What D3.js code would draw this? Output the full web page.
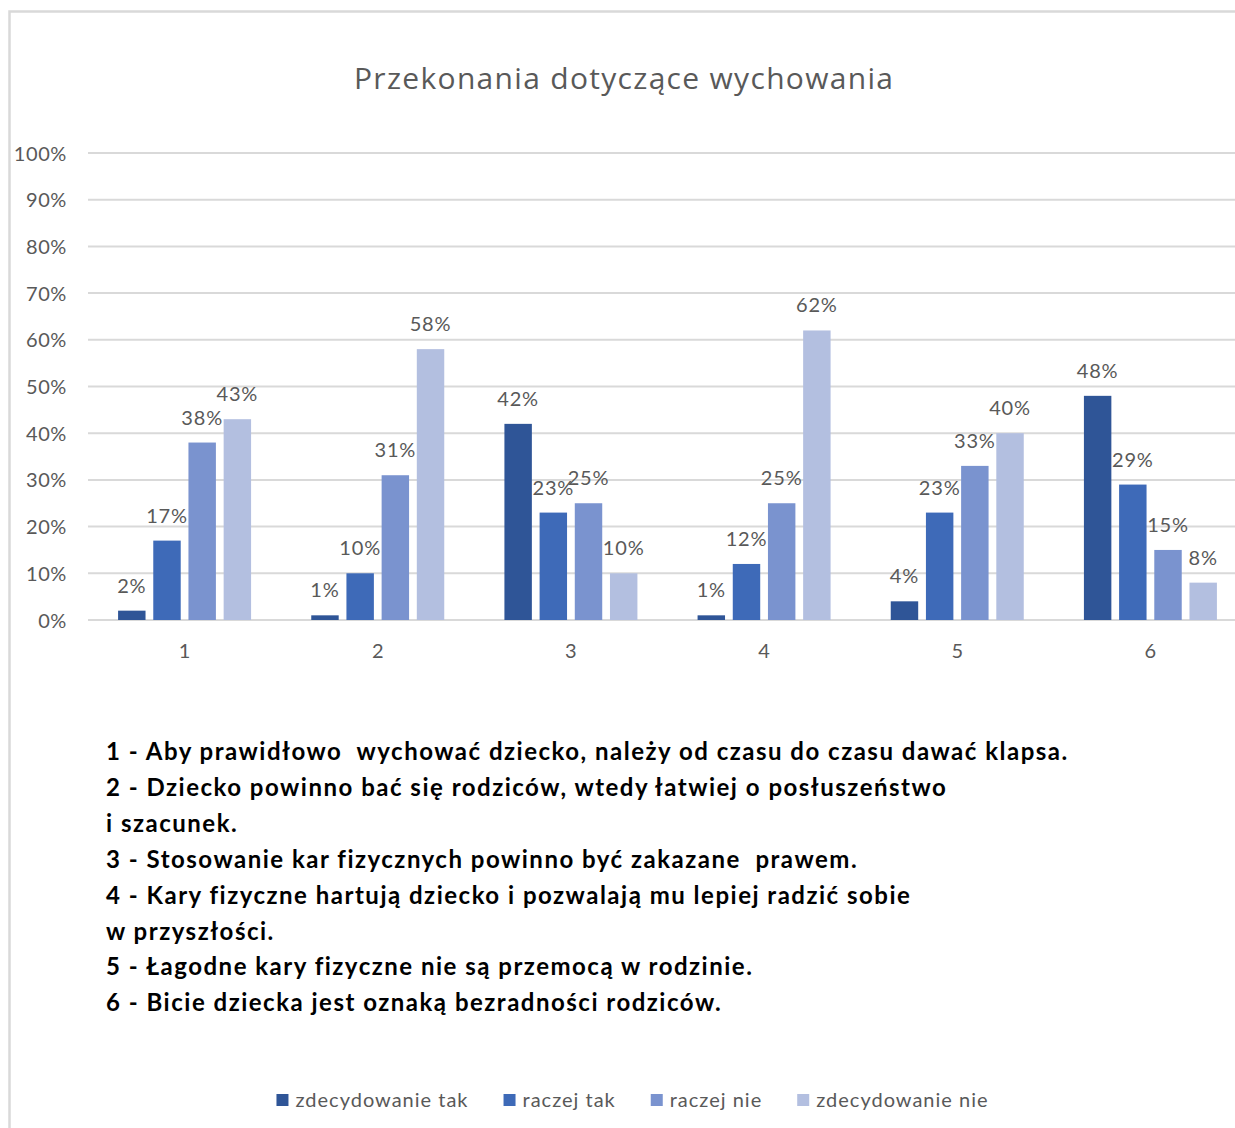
<!DOCTYPE html>
<html><head><meta charset="utf-8">
<script src="https://cdn.jsdelivr.net/npm/d3@7"></script>
<style>
html,body{margin:0;padding:0;background:#fff;}
svg{display:block;}
</style></head>
<body>
<svg id="chart" width="1235" height="1128"></svg>
<script>
const title = "Przekonania dotyczące wychowania";
const categories = ["1","2","3","4","5","6"];
const seriesNames = ["zdecydowanie tak","raczej tak","raczej nie","zdecydowanie nie"];
const seriesColors = ["#2F5597","#3E6AB8","#7A93CF","#B3BFE0"];
const zdecydowanieTak = [2,1,42,1,4,48];
const raczejTak = [17,10,23,12,23,29];
const raczejNie = [38,31,25,25,33,15];
const zdecydowanieNie = [43,58,10,62,40,8];
const yTicks = [0,0.1,0.2,0.3,0.4,0.5,0.6,0.7,0.8,0.9,1.0];
const statements = [
  "1 - Aby prawidłowo  wychować dziecko, należy od czasu do czasu dawać klapsa.",
  "2 - Dziecko powinno bać się rodziców, wtedy łatwiej o posłuszeństwo",
  "i szacunek.",
  "3 - Stosowanie kar fizycznych powinno być zakazane  prawem.",
  "4 - Kary fizyczne hartują dziecko i pozwalają mu lepiej radzić sobie",
  "w przyszłości.",
  "5 - Łagodne kary fizyczne nie są przemocą w rodzinie.",
  "6 - Bicie dziecka jest oznaką bezradności rodziców."
];

const allSeries = [zdecydowanieTak, raczejTak, raczejNie, zdecydowanieNie];
const data = categories.map((c,i)=>({cat:c, vals: seriesNames.map((s,j)=>({s, v: allSeries[j][i]/100, color: seriesColors[j]}))}));

const svg = d3.select("#chart");
const grey = "#595959";
const font = "Lato, 'Open Sans', sans-serif";

// frame
svg.append("rect").attr("x",9.5).attr("y",11.5).attr("width",1240).attr("height",1140)
  .attr("fill","#fff").attr("stroke","#D9D9D9").attr("stroke-width",2.5);

// title
svg.append("text").attr("x",623.5).attr("y",89).attr("text-anchor","middle")
  .attr("font-family","'Open Sans', Lato, sans-serif").attr("font-size",30).attr("fill",grey)
  .attr("textLength",539).attr("lengthAdjust","spacing").text(title);

const x = d3.scaleBand().domain(categories).range([88,1247]).paddingInner(0).paddingOuter(0);
const y = d3.scaleLinear().domain([0,1]).range([620,153]);
const xs = d3.scaleBand().domain(seriesNames).range([-66.5,66.5]).paddingInner(0.22).paddingOuter(0);

// y axis labels
const yAxis = d3.axisLeft(y).tickValues(yTicks).tickFormat(d3.format(".0%")).tickSize(0).tickPadding(0);
const yg = svg.append("g").attr("transform","translate(67,0)").call(yAxis);
yg.select(".domain").remove();
yg.selectAll("text").attr("font-family",font).attr("font-size",20).attr("fill",grey).attr("dy","0.35em")
  .style("letter-spacing","0.6px");

// gridlines
svg.append("g").selectAll("line").data(yTicks).join("line")
  .attr("x1",88).attr("x2",1247).attr("y1",d=>y(d)).attr("y2",d=>y(d))
  .attr("stroke","#D9D9D9").attr("stroke-width",2);

// x axis labels
const xAxis = d3.axisBottom(x).tickSize(0).tickPadding(0);
const xg = svg.append("g").attr("transform","translate(0,644)").call(xAxis);
xg.select(".domain").remove();
xg.selectAll("text").attr("font-family",font).attr("font-size",20).attr("fill",grey).attr("dy","0.35em").attr("y",7);

// bars
const groups = svg.append("g").selectAll("g").data(data).join("g")
  .attr("transform",d=>`translate(${x(d.cat)+x.bandwidth()/2},0)`);
groups.selectAll("rect").data(d=>d.vals).join("rect")
  .attr("x",d=>xs(d.s)).attr("width",xs.bandwidth())
  .attr("y",d=>y(d.v)).attr("height",d=>y(0)-y(d.v))
  .attr("fill",d=>d.color);
groups.selectAll("text").data(d=>d.vals).join("text")
  .attr("x",d=>xs(d.s)+xs.bandwidth()/2).attr("y",d=>y(d.v)-25)
  .attr("dy","0.35em").attr("text-anchor","middle")
  .attr("font-family",font).attr("font-size",20).attr("fill",grey)
  .style("letter-spacing","0.8px")
  .text(d=>d3.format(".0%")(d.v));

// statements
svg.append("g").selectAll("text").data(statements).join("text")
  .attr("x",106).attr("y",(d,i)=>760+i*35.9)
  .attr("font-family",font).attr("font-weight","bold").attr("font-size",24).attr("fill","#000")
  .attr("xml:space","preserve").style("white-space","pre").style("letter-spacing","1.5px")
  .text(d=>d);

// legend
const lg = svg.append("g");
const items = lg.selectAll("g").data(seriesNames).join("g");
items.append("rect").attr("width",12).attr("height",12).attr("y",-6).attr("fill",(d,i)=>seriesColors[i]);
items.append("text").attr("x",19).attr("dy","0.35em").attr("font-family",font).attr("font-size",20).attr("fill",grey)
  .style("letter-spacing","1px").text(d=>d);
let cx = 0; const pos=[];
items.each(function(){ const w = 19 + this.querySelector("text").getComputedTextLength(); pos.push(cx); cx += w + 35; });
const total = cx - 35;
items.attr("transform",(d,i)=>`translate(${pos[i]},0)`);
lg.attr("transform",`translate(${632.5 - total/2},1100)`);
</script>
</body></html>
